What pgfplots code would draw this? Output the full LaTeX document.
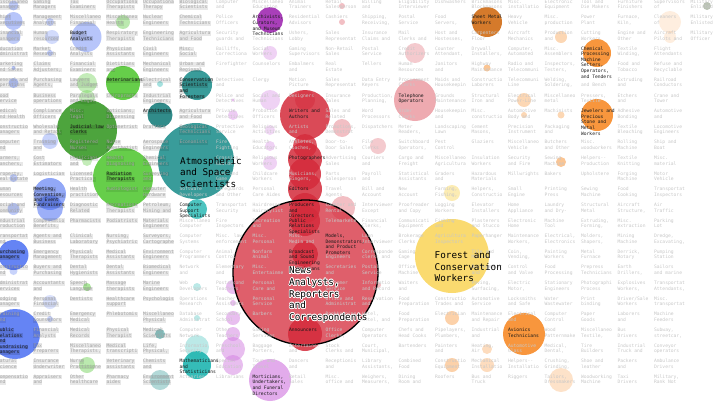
\documentclass[border=0pt]{standalone}
\usepackage{pgfplots}
\pgfplotsset{compat=1.18}
\usepackage{fontspec}
\setmainfont{DejaVu Sans Mono}
\definecolor{cBlue}{HTML}{4A6EF2}
\definecolor{cGreen}{HTML}{55C936}
\definecolor{cGreenD}{HTML}{3A9A28}
\definecolor{cTeal}{HTML}{23918F}
\definecolor{cTealD}{HTML}{1B7F7D}
\definecolor{cCyan}{HTML}{1FB5B0}
\definecolor{cPurple}{HTML}{A435B5}
\definecolor{cViolet}{HTML}{D27EE0}
\definecolor{cRed}{HTML}{D42A3A}
\definecolor{cYellow}{HTML}{F9D456}
\definecolor{cOrange}{HTML}{F78B28}
\definecolor{cOrangeD}{HTML}{D06C14}
\definecolor{cMil}{HTML}{8C9A82}
% one bubble: x, y, radius, colour, opacity
\newcommand{\B}[5]{\addplot[only marks, mark=*, mark size=#3pt, mark options={fill=#4, draw=#4, draw opacity=0, line width=0pt, fill opacity=#5}] coordinates {(#1,#2)};}
\tikzset{
 bgfont/.style={font=\fontsize{4.65}{5.6}\selectfont, anchor=west, inner xsep=0.35pt, inner ysep=0.1pt, text height=3.5pt, text depth=1.05pt},
 bg/.style={bgfont, text=black!22},
 bgb/.style={bgfont, text=black!36, fill=black, fill opacity=0.09, text opacity=1},
 lab/.style={bgfont, text=black!90},
 labb/.style={bgfont, text=black!90, fill=black, fill opacity=0.12, text opacity=1},
 big/.style={font=\fontsize{9.3}{11}\selectfont, anchor=west, inner sep=0pt, text height=6.8pt, text depth=2pt},
}
\newcommand{\Tx}[5]{\node[#5] at ({33+36.5*(#1)},{405-15.63*(#2)-5.6*(#3)}) {#4};}
\newcommand{\C}[4]{%
 \tikzset{cst/.style=bg}%
 \ifnum#1<4\relax \tikzset{cst/.style=bgb}\fi
 \ifnum#1=4\relax \ifnum#2<12\relax \tikzset{cst/.style=bgb}\fi\fi
 \if\relax\detokenize{#3}\relax\else\Tx{#1}{#2}{0}{#3}{cst}\fi
 \if\relax\detokenize{#4}\relax\else\Tx{#1}{#2}{1}{#4}{cst}\fi}
\newcommand{\BigH}[3]{%
 \foreach \a in {0,30,...,330}{\node[big,text=white] at ({#1+0.8*cos(\a)},{#2+0.8*sin(\a)}) {#3};}%
 \node[big,text=black] at (#1,#2) {#3};}
\begin{document}
\begin{tikzpicture}
\begin{axis}[at={(0,0)}, anchor=south west, width=727pt, height=407pt, scale only axis,
  xmin=0, xmax=727, ymin=0, ymax=407, y dir=reverse, hide axis, clip=false]
% blue
\B{13.5}{5.5}{5}{cBlue}{0.35}
\B{13.5}{21}{9}{cBlue}{0.4}
\B{13.5}{37}{7}{cBlue}{0.35}
\B{13.5}{68}{2}{cBlue}{0.4}
\B{13.5}{83}{5}{cBlue}{0.4}
\B{50}{22}{4}{cBlue}{0.3}
\B{52}{37}{7}{cBlue}{0.25}
\B{50}{53}{3}{cBlue}{0.35}
\B{86.5}{37}{15}{cBlue}{0.4}
\B{50}{141}{8}{cBlue}{0.3}
\B{13.5}{178}{4}{cBlue}{0.35}
\B{50}{194}{16}{cBlue}{0.6}
\B{50}{208}{13}{cBlue}{0.55}
\B{13.5}{209}{6}{cBlue}{0.35}
\B{13.5}{255}{15}{cBlue}{0.85}
\B{13.5}{271}{4}{cBlue}{0.3}
\B{15}{334}{25}{cBlue}{0.85}
\B{50}{302}{7}{cBlue}{0.2}
\B{50}{319}{3}{cBlue}{0.3}
% green
\B{123}{22}{7}{cGreen}{0.4}
\B{123}{83}{17}{cGreen}{0.9}
\B{87}{83}{10}{cGreen}{0.35}
\B{87}{98}{8}{cGreen}{0.3}
\B{87}{161}{5}{cGreen}{0.35}
\B{123}{178}{30}{cGreen}{0.9}
\B{87}{287}{4}{cGreen}{0.5}
\B{87}{365}{8}{cGreen}{0.4}
\B{87}{130}{30}{cGreenD}{0.9}
% teal
\B{197}{85}{15}{cTeal}{0.9}
\B{196}{161}{38}{cTeal}{0.9}
\B{160}{334}{5}{cTeal}{0.5}
\B{160}{380}{10}{cTeal}{0.35}
\B{160}{115}{12.5}{cTealD}{0.9}
\B{160}{84}{3}{cCyan}{0.4}
\B{197}{209}{10}{cCyan}{0.8}
\B{197}{287}{4}{cCyan}{0.3}
\B{197}{318}{3}{cCyan}{0.3}
\B{197}{347}{12}{cCyan}{0.3}
\B{197}{365}{14}{cCyan}{0.9}
% purple
\B{270}{20}{13}{cPurple}{0.95}
\B{270}{53}{7}{cViolet}{0.35}
\B{270}{100}{10}{cViolet}{0.35}
\B{270}{130}{5}{cViolet}{0.3}
\B{270}{146}{5}{cViolet}{0.35}
\B{270}{163}{7}{cViolet}{0.35}
\B{233}{100}{1.7}{cViolet}{0.5}
\B{233}{115}{5}{cViolet}{0.4}
\B{233}{287}{7}{cViolet}{0.5}
\B{233}{303}{3}{cViolet}{0.5}
\B{233}{318}{7}{cViolet}{0.5}
\B{233}{334}{7}{cViolet}{0.5}
\B{233}{349}{12}{cViolet}{0.5}
\B{233}{365}{10}{cViolet}{0.5}
\B{270}{380}{21}{cViolet}{0.65}
% red
\B{342}{6}{3}{cRed}{0.3}
\B{342}{22}{3}{cRed}{0.3}
\B{305}{100}{10}{cRed}{0.5}
\B{305}{115}{25}{cRed}{0.85}
\B{342}{128}{9}{cRed}{0.3}
\B{415}{53}{10}{cRed}{0.25}
\B{415}{100}{21}{cRed}{0.4}
\B{305}{146}{12}{cRed}{0.8}
\B{378}{146}{8}{cRed}{0.25}
\B{305}{159}{17}{cRed}{0.85}
\B{305}{174}{16}{cRed}{0.85}
\B{305}{189}{17}{cRed}{0.85}
\B{305}{208}{15}{cRed}{0.85}
\B{305}{221}{15}{cRed}{0.85}
\B{343}{208}{12}{cRed}{0.3}
\B{378}{285}{3}{cRed}{0.3}
\B{305}{254}{13}{cRed}{0.85}
\B{305}{334}{17}{cRed}{0.85}
\addplot[only marks, mark=*, mark size=72.5pt, mark options={fill=cRed, draw=black, line width=1.3pt, fill opacity=0.75, draw opacity=1}] coordinates {(305.5,272.5)};
% yellow
\B{452}{256}{37}{cYellow}{0.85}
\B{452}{193}{8}{cYellow}{0.45}
% orange
\B{487}{22}{15}{cOrangeD}{0.9}
\B{597}{53}{14}{cOrange}{0.9}
\B{597}{115}{16}{cOrange}{0.9}
\B{561}{37}{6}{cOrange}{0.35}
\B{524}{100}{7}{cOrange}{0.35}
\B{524}{115}{3}{cOrange}{0.35}
\B{561}{115}{3.5}{cOrange}{0.35}
\B{487}{68}{3.5}{cOrange}{0.5}
\B{670}{22}{11}{cOrange}{0.15}
\B{670}{37}{6}{cOrange}{0.15}
\B{561}{162}{5}{cOrange}{0.5}
\B{524}{334}{21}{cOrange}{0.9}
\B{487}{349}{5}{cOrange}{0.3}
\B{487}{365}{7}{cOrange}{0.3}
\B{561}{380}{12}{cOrange}{0.25}
\B{452}{318}{7}{cOrange}{0.4}
\B{452}{365}{7}{cOrange}{0.4}
% military
\B{707}{6}{4}{cMil}{0.6}
\end{axis}
\begin{scope}[x=1pt,y=1pt]
\clip (0,0) rectangle (727,407);
% ---- background cells
\C{-1}{0}{Miscellaneo}{Managers}
\C{-1}{1}{Chief}{Executives}
\C{-1}{2}{Financial}{Managers}
\C{-1}{3}{Education}{Administrat}
\C{-1}{4}{Marketing}{and Sales}
\C{-1}{5}{General and}{Operations}
\C{-1}{6}{Food}{Service}
\C{-1}{7}{Medical}{and Health}
\C{-1}{8}{Constructio}{Managers}
\C{-1}{9}{Computer}{and}
\C{-1}{10}{Farmers,}{Ranchers,}
\C{-1}{11}{Property,}{Real Estate}
\C{-1}{12}{Human}{Resources}
\C{-1}{13}{Social and}{Community}
\C{-1}{14}{Industrial}{Production}
\C{-1}{15}{Transportat}{and}
\C{-1}{17}{Constructio}{and}
\C{-1}{18}{Administrat}{Services}
\C{-1}{19}{Lodging}{Managers}
\C{-1}{20}{Training}{and}
\C{-1}{23}{Natural}{Science}
\C{-1}{24}{Compensatio}{and}
\C{0}{0}{Gaming}{Managers}
\C{0}{1}{Management}{Analysts}
\C{0}{2}{Human}{resources}
\C{0}{3}{Market}{Research}
\C{0}{4}{Claims}{Adjusters,}
\C{0}{5}{Purchasing}{Agents,}
\C{0}{6}{Business}{operations}
\C{0}{7}{Compliance}{Officers}
\C{0}{8}{Wholesale}{and Retail}
\C{0}{9}{Training}{and}
\C{0}{10}{Cost}{Estimators}
\C{0}{11}{Logistician}{}
\C{0}{14}{Compensatio}{Benefits,}
\C{0}{15}{Agents and}{Business}
\C{0}{16}{Emergency}{Management}
\C{0}{17}{Buyers and}{Purchasing}
\C{0}{18}{Accountants}{and}
\C{0}{19}{Personal}{Financial}
\C{0}{20}{Credit}{Counselors}
\C{0}{21}{Financial}{Analysts}
\C{0}{22}{Tax}{Preparers}
\C{0}{23}{Insurance}{Underwriter}
\C{0}{24}{Appraisers}{and}
\C{1}{0}{Tax}{Examiners}
\C{1}{1}{Miscellaneo}{Financial}
\C{1}{3}{Credit}{Analysts}
\C{1}{4}{Financial}{Examiners}
\C{1}{5}{Lawyers}{and Judges}
\C{1}{6}{Paralegals}{and Legal}
\C{1}{7}{Misc.}{legal}
\C{1}{9}{Registered}{Nurses}
\C{1}{10}{Physicians}{and}
\C{1}{11}{Licensed}{Practical}
\C{1}{12}{Health}{practition}
\C{1}{13}{Diagnostic}{Related}
\C{1}{14}{Pharmacists}{}
\C{1}{15}{Clinical}{Laboratory}
\C{1}{16}{Physical}{Therapists}
\C{1}{17}{Dental}{Hygienists}
\C{1}{18}{Speech}{Language}
\C{1}{19}{Dentists}{}
\C{1}{20}{Emergency}{Medical}
\C{1}{21}{Medical}{Records}
\C{1}{22}{Miscellaneo}{Therapists,}
\C{1}{23}{Nurse}{Practitione}
\C{1}{24}{Other}{healthcare}
\C{2}{0}{Occupationa}{Therapists}
\C{2}{1}{Miscellaneo}{Health}
\C{2}{2}{Respiratory}{Therapists}
\C{2}{3}{Physician}{Assistants}
\C{2}{4}{Dietitians}{and}
\C{2}{6}{Chiropracto}{}
\C{2}{7}{Opticians,}{Dispensing}
\C{2}{8}{Optometrist}{}
\C{2}{9}{Nurse}{Anesthetist}
\C{2}{10}{Health}{Diagnosing}
\C{2}{12}{Audiologist}{}
\C{2}{13}{Recreationa}{Therapists}
\C{2}{14}{Podiatrists}{}
\C{2}{15}{Nursing,}{Psychiatric}
\C{2}{16}{Medical}{Assistants}
\C{2}{17}{Dental}{Assistants}
\C{2}{18}{Massage}{therapists}
\C{2}{19}{Healthcare}{support}
\C{2}{20}{Phlebotomis}{}
\C{2}{21}{Physical}{Therapist}
\C{2}{22}{Medical}{transcripti}
\C{2}{23}{Veterinary}{assistants}
\C{2}{24}{Pharmacy}{aides}
\C{3}{0}{Occupationa}{Therapy}
\C{3}{1}{Nuclear}{Engineers}
\C{3}{2}{Engineering}{Technicians}
\C{3}{3}{Civil}{Engineers}
\C{3}{4}{Mechanical}{Engineers}
\C{3}{5}{Electrical}{and}
\C{3}{6}{Industrial}{Engineers,}
\C{3}{8}{Drafters}{}
\C{3}{9}{Aerospace}{Engineers}
\C{3}{10}{Chemical}{Engineers}
\C{3}{11}{Surveying}{and}
\C{3}{12}{Computer}{Hardware}
\C{3}{13}{Petroleum,}{Mining and}
\C{3}{14}{Materials}{Engineers}
\C{3}{15}{Surveyors,}{Cartographe}
\C{3}{16}{Environment}{Engineers}
\C{3}{17}{Biomedical}{Engineers}
\C{3}{18}{Marine}{Engineers}
\C{3}{19}{Psychologis}{}
\C{3}{20}{Miscellaneo}{Physical}
\C{3}{21}{Medical}{Scientists}
\C{3}{22}{Life,}{Physical,}
\C{3}{23}{Chemists}{and}
\C{3}{24}{Environment}{Scientists}
\C{4}{0}{Biological}{Scientists}
\C{4}{1}{Chemical}{Technicians}
\C{4}{2}{Agricultura}{and Food}
\C{4}{3}{Misc.}{Social}
\C{4}{4}{Urban and}{Regional}
\C{4}{7}{Agricultura}{and Food}
\C{4}{8}{Geological}{Technicians}
\C{4}{9}{Economists}{}
\C{4}{12}{Software}{Developers}
\C{4}{14}{Miscellaneo}{Computer}
\C{4}{15}{Computer}{Systems}
\C{4}{16}{Computer}{Programmers}
\C{4}{17}{Network}{and}
\C{4}{18}{Web}{Developers}
\C{4}{19}{Operations}{Research}
\C{4}{20}{Database}{Administrat}
\C{4}{21}{Computer}{Network}
\C{4}{22}{Informatio}{Security}
\C{4}{24}{Actuaries}{}
\C{5}{0}{Computer}{and}
\C{5}{1}{Police}{Officers}
\C{5}{2}{Security}{guards and}
\C{5}{3}{Bailiffs,}{Correctiona}
\C{5}{4}{Firefighter}{}
\C{5}{5}{Detectives}{and}
\C{5}{6}{Police and}{Detectives}
\C{5}{7}{Private}{Detectives}
\C{5}{8}{Protective}{Service}
\C{5}{9}{Fire}{Fighting}
\C{5}{10}{Crossing}{Guards}
\C{5}{11}{Fish and}{Game}
\C{5}{12}{Lifeguards}{and Other}
\C{5}{13}{Transportat}{Security}
\C{5}{14}{Fire}{Inspectors}
\C{5}{15}{Misc. law}{enforcement}
\C{5}{16}{Animal}{Control}
\C{5}{17}{Elementary}{and}
\C{5}{18}{Postsecond}{Teachers}
\C{5}{19}{Teacher}{Assistants}
\C{5}{20}{Secondary}{School}
\C{5}{21}{Other}{Teachers}
\C{5}{22}{Preschool}{and}
\C{5}{23}{Special}{Education}
\C{5}{24}{Librarians}{}
\C{6}{0}{Miscellaneo}{Education}
\C{6}{2}{}{Technicians}
\C{6}{3}{Social}{Workers}
\C{6}{4}{Counselors}{}
\C{6}{5}{Clergy}{}
\C{6}{6}{Social and}{Human}
\C{6}{7}{Probation}{Officers}
\C{6}{8}{Religious}{Activities}
\C{6}{9}{Health}{Educators}
\C{6}{10}{Religious}{Workers}
\C{6}{11}{Childcare}{Workers}
\C{6}{12}{Personal}{Care Aides}
\C{6}{13}{Hairdresse}{Hairstylist}
\C{6}{14}{Recreation}{and}
\C{6}{15}{Misc.}{Personal}
\C{6}{16}{Nonfarm}{Animal}
\C{6}{17}{Misc.}{Entertainme}
\C{6}{18}{Personal}{Care and}
\C{6}{19}{Personal}{Service}
\C{6}{20}{Barbers}{}
\C{6}{21}{Gaming}{Services}
\C{6}{22}{Baggage}{Porters,}
\C{6}{23}{Tour and}{Travel}
\C{7}{0}{Animal}{Trainers}
\C{7}{1}{Residential}{Advisors}
\C{7}{2}{Ushers,}{Lobby}
\C{7}{3}{Gaming}{Supervisors}
\C{7}{4}{Embalmers}{and}
\C{7}{5}{Motion}{Picture}
\C{7}{6}{Designers}{}
\C{7}{8}{Artists}{and}
\C{7}{9}{Athletes,}{Coaches,}
\C{7}{11}{Musicians,}{Singers,}
\C{7}{15}{Misc.}{Media and}
\C{7}{22}{Entertainer}{and}
\C{7}{23}{Dancers}{and}
\C{7}{24}{Retail}{Sales}
\C{8}{0}{Retail}{Salesperson}
\C{8}{1}{Cashiers}{}
\C{8}{2}{Sales}{Representat}
\C{8}{3}{Non-Retail}{Sales}
\C{8}{4}{Real}{Estate}
\C{8}{5}{Sales}{Representat}
\C{8}{6}{Insurance}{Sales}
\C{8}{7}{Sales and}{Related}
\C{8}{8}{Promotions,}{Demonstrat}
\C{8}{9}{Door-to-}{Door Sales}
\C{8}{10}{Advertising}{Sales}
\C{8}{11}{Parts}{Salesperson}
\C{8}{12}{Travel}{Agents}
\C{8}{13}{Counter and}{Rental}
\C{8}{14}{Telemarkete}{}
\C{8}{16}{}{Engineers}
\C{8}{17}{Secretaries}{and}
\C{8}{18}{Customer}{Service}
\C{8}{19}{Office and}{Administrat}
\C{8}{20}{Bookkeeping}{Accounting}
\C{8}{21}{Office}{Clerks,}
\C{8}{22}{Stock}{Clerks and}
\C{8}{23}{Receptionis}{and}
\C{8}{24}{Misc.}{office and}
\C{9}{0}{Billing}{and}
\C{9}{1}{Shipping,}{Receiving,}
\C{9}{2}{Insurance}{Claims and}
\C{9}{3}{Postal}{Service}
\C{9}{4}{Tellers}{}
\C{9}{5}{Data Entry}{Keyers}
\C{9}{6}{Production,}{Planning,}
\C{9}{7}{Word}{Processors}
\C{9}{8}{Dispatchers}{}
\C{9}{9}{File}{Clerks}
\C{9}{10}{Couriers}{and}
\C{9}{11}{Payroll}{and}
\C{9}{12}{Bill and}{Account}
\C{9}{13}{Interviewer}{Except}
\C{9}{14}{Financial}{Clerks,}
\C{9}{15}{Loan}{Interviewer}
\C{9}{16}{Corresponde}{clerks and}
\C{9}{17}{Postal}{Service}
\C{9}{18}{Informatio}{and Record}
\C{9}{19}{Reservation}{and}
\C{9}{20}{Hotel,}{Motel, and}
\C{9}{21}{Computer}{Operators}
\C{9}{22}{Court,}{Municipal,}
\C{9}{23}{Library}{Assistants,}
\C{9}{24}{Weighers,}{Measurers,}
\C{10}{0}{Eligibility}{Interviewer}
\C{10}{1}{Postal}{Service}
\C{10}{2}{Mail}{Clerks and}
\C{10}{3}{Credit}{Authorizers}
\C{10}{4}{Human}{Resources}
\C{10}{5}{Procurement}{Clerks}
\C{10}{7}{Order}{Clerks}
\C{10}{8}{Meter}{Readers,}
\C{10}{9}{Switchboard}{Operators,}
\C{10}{10}{Cargo and}{Freight}
\C{10}{11}{Statistical}{Assistants}
\C{10}{12}{New}{Account}
\C{10}{13}{Proofreader}{and Copy}
\C{10}{14}{Communicati}{Equipment}
\C{10}{15}{Brokerage}{Clerks}
\C{10}{16}{Gaming}{Cage}
\C{10}{17}{Office}{Machine}
\C{10}{18}{Waiters}{and}
\C{10}{19}{Food}{Preparation}
\C{10}{20}{Food}{Preparation}
\C{10}{21}{Chefs and}{Head Cooks}
\C{10}{22}{Bartenders}{}
\C{10}{23}{Combined}{Food}
\C{10}{24}{Dining}{Room and}
\C{11}{0}{Dishwashers}{}
\C{11}{1}{Food}{Servers,}
\C{11}{2}{Host and}{Hostesses,}
\C{11}{3}{Counter}{Attendant,}
\C{11}{4}{Janitors}{and}
\C{11}{5}{Maids and}{Housekeepin}
\C{11}{6}{Grounds}{Maintenance}
\C{11}{7}{Housekeepin}{and}
\C{11}{8}{Landscaping}{Lawn}
\C{11}{9}{Pest}{Control}
\C{11}{10}{Miscellaneo}{Agricultura}
\C{11}{11}{Graders}{and}
\C{11}{12}{Farming,}{Fishing,}
\C{11}{13}{Logging}{Workers}
\C{11}{14}{Fishing}{and}
\C{11}{15}{Agricultura}{Inspectors}
\C{11}{19}{Constructio}{Trades and}
\C{11}{20}{Electrician}{}
\C{11}{21}{Pipelayers,}{Plumbers,}
\C{11}{22}{Painters}{and}
\C{11}{23}{Constructio}{Equipment}
\C{11}{24}{Roofers}{}
\C{12}{0}{Brickmasons}{Blockmasons}
\C{12}{2}{Carpenters}{Floor}
\C{12}{3}{Drywall}{Installers,}
\C{12}{4}{Highway}{Maintenance}
\C{12}{5}{Constructio}{Laborers}
\C{12}{6}{Structural}{Iron and}
\C{12}{7}{Misc.}{constructio}
\C{12}{8}{Cement}{Masons,}
\C{12}{9}{Glaziers}{}
\C{12}{10}{Insulation}{Workers}
\C{12}{11}{Hazardous}{Materials}
\C{12}{12}{Helpers,}{Constructio}
\C{12}{13}{Elevator}{Installers}
\C{12}{14}{Plasterers}{and Stucco}
\C{12}{15}{Paperhanger}{}
\C{12}{16}{Tile and}{Marble}
\C{12}{17}{Boilermaker}{and}
\C{12}{18}{Paving,}{Surfacing,}
\C{12}{19}{Automotive}{Service}
\C{12}{20}{Maintenance}{and Repair}
\C{12}{21}{Industrial}{and}
\C{12}{22}{Heating,}{Air}
\C{12}{23}{Mechanical}{Installatio}
\C{12}{24}{Bus and}{Truck}
\C{13}{0}{Misc.}{installatio}
\C{13}{1}{Heavy}{Vehicle}
\C{13}{2}{Aircraft}{Mechanics}
\C{13}{3}{Computer,}{Automated}
\C{13}{4}{Radio and}{Telecommuni}
\C{13}{5}{Telecommuni}{Line}
\C{13}{6}{Electrical}{Power-Line}
\C{13}{7}{Automotive}{Body and}
\C{13}{8}{Precision}{Instrument}
\C{13}{9}{Miscellaneo}{Vehicle}
\C{13}{10}{Security}{and Fire}
\C{13}{11}{Millwrights}{}
\C{13}{12}{Small}{Engine}
\C{13}{13}{Home}{Appliance}
\C{13}{14}{Electronic}{Home}
\C{13}{15}{Maintenance}{Workers,}
\C{13}{16}{Coin,}{Vending,}
\C{13}{17}{Control}{and Valve}
\C{13}{18}{Electric}{Motor,}
\C{13}{19}{Locksmiths}{and Safe}
\C{13}{20}{Electrical}{and}
\C{13}{22}{Automotive}{Glass}
\C{13}{23}{Helpers-{}-}{Installatio}
\C{13}{24}{Riggers}{}
\C{14}{0}{Electronic}{Equipment}
\C{14}{1}{Misc.}{production}
\C{14}{2}{Production}{and}
\C{14}{3}{Misc.}{Assemblers}
\C{14}{4}{Inspectors,}{Testers,}
\C{14}{5}{Welding,}{Soldering,}
\C{14}{6}{Miscellaneo}{metal}
\C{14}{7}{Machinists}{}
\C{14}{8}{Packaging}{and}
\C{14}{9}{Butchers}{and Other}
\C{14}{10}{Sewing}{Machine}
\C{14}{11}{Bakers}{}
\C{14}{12}{Printing}{Press}
\C{14}{13}{Laundry}{and Dry-}
\C{14}{14}{Machine}{Tool}
\C{14}{15}{Electrical,}{Electronics}
\C{14}{16}{Painting}{Workers}
\C{14}{17}{Food}{Processing}
\C{14}{18}{Stationary}{Engineers}
\C{14}{19}{Water}{Wastewater}
\C{14}{20}{Computer}{Control}
\C{14}{21}{Wood}{Patternmake}
\C{14}{22}{Medical,}{Dental,}
\C{14}{23}{Crushing,}{Grinding,}
\C{14}{24}{Tailors,}{Dressmakers}
\C{15}{0}{Tool and}{Die Makers}
\C{15}{1}{Power}{Plant}
\C{15}{2}{Cutting}{Workers}
\C{15}{5}{}{and Bench}
\C{15}{6}{Pressers,}{Textile}
\C{15}{9}{Misc.}{woodworkers}
\C{15}{10}{Helpers-{}-}{Production}
\C{15}{11}{Upholstere}{}
\C{15}{12}{Sewing}{Machine}
\C{15}{13}{Structural}{Metal}
\C{15}{14}{Extruding,}{Forming,}
\C{15}{15}{Molders,}{Shapers,}
\C{15}{16}{Metal}{Furnace}
\C{15}{17}{Prepress}{Technicians}
\C{15}{18}{Photographi}{Process}
\C{15}{19}{Print}{binding}
\C{15}{20}{Paper}{Goods}
\C{15}{21}{Miscellaneo}{Textile,}
\C{15}{22}{Tire}{Builders}
\C{15}{23}{Shoe and}{leather}
\C{15}{24}{Woodworking}{Machine}
\C{16}{0}{Furniture}{Finishers}
\C{16}{1}{Furnace,}{Kiln,}
\C{16}{2}{Engine and}{Other}
\C{16}{3}{Textile}{Winding,}
\C{16}{4}{Food and}{Tobacco}
\C{16}{5}{Extruding}{and}
\C{16}{6}{Etchers}{and}
\C{16}{7}{Adhesive}{Bonding}
\C{16}{8}{Textile}{Bleaching}
\C{16}{9}{Rolling}{Machine}
\C{16}{10}{Textile}{Knitting}
\C{16}{11}{Forging}{Machine}
\C{16}{12}{Food}{Cooking}
\C{16}{13}{Aircraft}{Structure,}
\C{16}{14}{Misc.}{extraction}
\C{16}{15}{Mining}{Machine}
\C{16}{16}{Derrick,}{Rotary}
\C{16}{17}{Earth}{Drillers,}
\C{16}{18}{Explosives}{Workers,}
\C{16}{19}{Driver/Sale}{Workers}
\C{16}{20}{Laborers}{and}
\C{16}{21}{Bus}{Drivers}
\C{16}{22}{Industrial}{Truck and}
\C{16}{23}{Packers}{and}
\C{16}{24}{Taxi}{Drivers}
\C{17}{0}{Supervisors}{of}
\C{17}{1}{Cleaners}{of}
\C{17}{2}{Aircraft}{Pilots and}
\C{17}{3}{Flight}{Attendants}
\C{17}{4}{Refuse and}{Recyclable}
\C{17}{5}{Railroad}{Conductors}
\C{17}{6}{Crane and}{Tower}
\C{17}{7}{Automotive}{and}
\C{17}{8}{Locomotive}{Engineers}
\C{17}{9}{Ship and}{Boat}
\C{17}{10}{Misc.}{material}
\C{17}{11}{Motor}{Vehicle}
\C{17}{12}{Transportat}{Inspectors}
\C{17}{13}{Air}{Traffic}
\C{17}{14}{Parking}{Lot}
\C{17}{15}{Dredge,}{Excavating,}
\C{17}{16}{Pumping}{Station}
\C{17}{17}{Sailors}{and marine}
\C{17}{18}{Transportat}{Attendants,}
\C{17}{19}{Misc.}{transportat}
\C{17}{20}{Machine}{Feeders}
\C{17}{21}{Subway,}{streetcar,}
\C{17}{22}{Conveyor}{operators}
\C{17}{23}{Ambulance}{Drivers}
\C{17}{24}{Military,}{Rank Not}
\C{18}{0}{Military}{Enlisted}
\C{18}{1}{Military}{Enlisted}
\C{18}{2}{Military}{Officer}
% ---- labelled bubbles
\Tx{-1}{16}{0}{Purchasing}{labb}\Tx{-1}{16}{1}{Managers}{labb}
\Tx{-1}{21}{0}{Public}{labb}\Tx{-1}{21}{1}{Relations}{labb}\Tx{-1}{21}{2}{and}{labb}\Tx{-1}{21}{3}{Fundraising}{labb}\Tx{-1}{21}{4}{Managers}{labb}
\Tx{0}{12}{0}{Meeting,}{labb}\Tx{0}{12}{1}{Convention,}{labb}\Tx{0}{12}{2}{and Event}{labb}
\Tx{0}{13}{0}{Fundraisers}{labb}
\Tx{1}{2}{0}{Budget}{labb}\Tx{1}{2}{1}{Analysts}{labb}
\Tx{1}{8}{0}{Judicial law}{labb}\Tx{1}{8}{1}{clerks}{labb}
\Tx{2}{5}{0}{Veterinarians}{labb}
\Tx{2}{11}{0}{Radiation}{labb}\Tx{2}{11}{1}{Therapists}{labb}
\Tx{3}{7}{0}{Architects}{labb}
\Tx{4}{5}{0}{Conservation}{labb}\Tx{4}{5}{1}{Scientists}{labb}\Tx{4}{5}{2}{and}{labb}\Tx{4}{5}{3}{Foresters}{labb}
\Tx{4}{13}{0}{Computer}{lab}\Tx{4}{13}{1}{Support}{lab}\Tx{4}{13}{2}{Specialists}{lab}
\Tx{4}{23}{0}{Mathematicians}{lab}\Tx{4}{23}{1}{and}{lab}\Tx{4}{23}{2}{Statisticians}{lab}
\Tx{6}{1}{0}{Archivists,}{lab}\Tx{6}{1}{1}{Curators,}{lab}\Tx{6}{1}{2}{and Museum}{lab}\Tx{6}{1}{3}{Technicians}{lab}
\Tx{6}{24}{0}{Morticians,}{lab}\Tx{6}{24}{1}{Undertakers,}{lab}\Tx{6}{24}{2}{and Funeral}{lab}\Tx{6}{24}{3}{Directors}{lab}
\Tx{7}{7}{0}{Writers and}{lab}\Tx{7}{7}{1}{Authors}{lab}
\Tx{7}{10}{0}{Photographers}{lab}
\Tx{7}{12}{0}{Editors}{lab}
\Tx{7}{13}{0}{Producers}{lab}\Tx{7}{13}{1}{and}{lab}\Tx{7}{13}{2}{Directors}{lab}
\Tx{7}{14}{0}{Public}{lab}\Tx{7}{14}{1}{Relations}{lab}\Tx{7}{14}{2}{Specialists}{lab}
\Tx{7}{16}{0}{Broadcast}{lab}\Tx{7}{16}{1}{and Sound}{lab}\Tx{7}{16}{2}{Engineering}{lab}\Tx{7}{16}{3}{Technicians}{lab}
\Tx{7}{21}{0}{Announcers}{lab}
\Tx{8}{15}{0}{Models,}{lab}\Tx{8}{15}{1}{Demonstrators,}{lab}\Tx{8}{15}{2}{and Product}{lab}\Tx{8}{15}{3}{Promoters}{lab}
\Tx{10}{6}{0}{Telephone}{lab}\Tx{10}{6}{1}{Operators}{lab}
\Tx{12}{1}{0}{Sheet Metal}{lab}\Tx{12}{1}{1}{Workers}{lab}
\Tx{13}{21}{0}{Avionics}{lab}\Tx{13}{21}{1}{Technicians}{lab}
\Tx{15}{3}{0}{Chemical}{lab}\Tx{15}{3}{1}{Processing}{lab}\Tx{15}{3}{2}{Machine}{lab}\Tx{15}{3}{3}{Setters,}{lab}\Tx{15}{3}{4}{Operators,}{lab}\Tx{15}{3}{5}{and Tenders}{lab}
\Tx{15}{7}{0}{Jewelers and}{lab}\Tx{15}{7}{1}{Precious}{lab}\Tx{15}{7}{2}{Stone and}{lab}\Tx{15}{7}{3}{Metal}{lab}\Tx{15}{7}{4}{Workers}{lab}
% ---- big labels
\node[big] at (180,245) {Atmospheric};
\node[big] at (180,233.5) {and Space};
\node[big] at (180,222) {Scientists};
\BigH{289}{135.5}{News}
\BigH{289}{124}{Analysts,}
\BigH{289}{112}{Reporters}
\BigH{289}{101}{and}
\BigH{289}{89}{Correspondents}
\node[big] at (434.5,151) {Forest and};
\node[big] at (434.5,139) {Conservation};
\node[big] at (434.5,128) {Workers};
\end{scope}
\pgfresetboundingbox
\path[use as bounding box] (0,0) rectangle (727pt,407pt);
\end{tikzpicture}
\end{document}
